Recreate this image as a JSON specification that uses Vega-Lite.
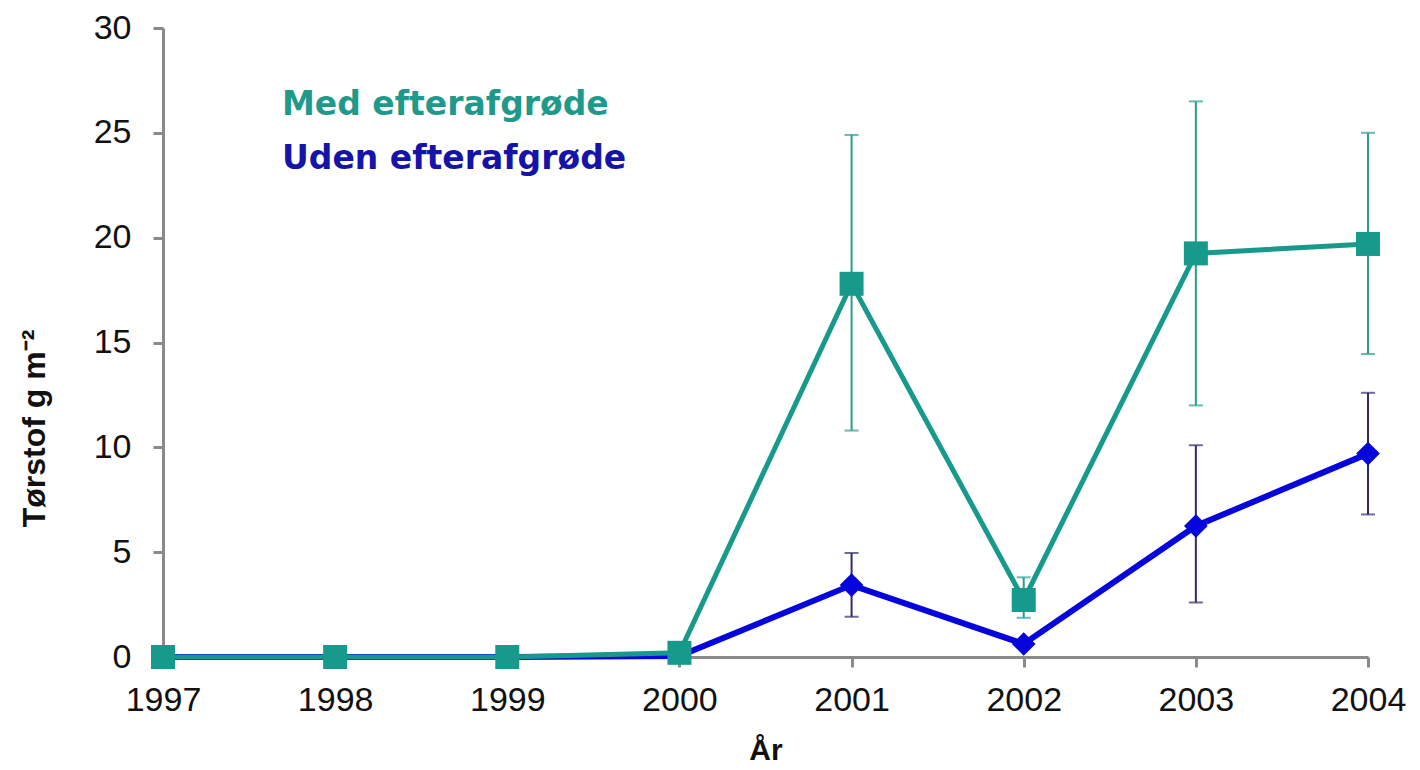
{
  "$schema": "https://vega.github.io/schema/vega-lite/v6.json",
  "width": 1205,
  "height": 629,
  "autosize": "none",
  "padding": {"left": 163, "top": 28, "right": 52, "bottom": 113},
  "background": "white",
  "config": {
    "view": {"stroke": null},
    "axis": {
      "grid": false,
      "domainColor": "#8a8a8a",
      "domainWidth": 3,
      "tickColor": "#8a8a8a",
      "tickWidth": 3,
      "tickSize": 10,
      "labelFont": "Liberation Sans",
      "labelFontSize": 34,
      "labelColor": "#111111",
      "titleFont": "Liberation Sans",
      "titleFontWeight": "bold",
      "titleFontSize": 30,
      "titleColor": "#111111"
    }
  },
  "data": {
    "values": [
      {"year": 1997, "serie": "Uden efterafgrøde", "value": 0, "lo": null, "hi": null},
      {"year": 1998, "serie": "Uden efterafgrøde", "value": 0, "lo": null, "hi": null},
      {"year": 1999, "serie": "Uden efterafgrøde", "value": 0, "lo": null, "hi": null},
      {"year": 2000, "serie": "Uden efterafgrøde", "value": 0.05, "lo": null, "hi": null},
      {"year": 2001, "serie": "Uden efterafgrøde", "value": 3.43, "lo": 1.92, "hi": 4.96},
      {"year": 2002, "serie": "Uden efterafgrøde", "value": 0.62, "lo": null, "hi": null},
      {"year": 2003, "serie": "Uden efterafgrøde", "value": 6.25, "lo": 2.6, "hi": 10.1},
      {"year": 2004, "serie": "Uden efterafgrøde", "value": 9.7, "lo": 6.8, "hi": 12.6},
      {"year": 1997, "serie": "Med efterafgrøde", "value": 0, "lo": null, "hi": null},
      {"year": 1998, "serie": "Med efterafgrøde", "value": 0, "lo": null, "hi": null},
      {"year": 1999, "serie": "Med efterafgrøde", "value": 0, "lo": null, "hi": null},
      {"year": 2000, "serie": "Med efterafgrøde", "value": 0.2, "lo": null, "hi": null},
      {"year": 2001, "serie": "Med efterafgrøde", "value": 17.8, "lo": 10.8, "hi": 24.9},
      {"year": 2002, "serie": "Med efterafgrøde", "value": 2.72, "lo": 1.87, "hi": 3.8},
      {"year": 2003, "serie": "Med efterafgrøde", "value": 19.25, "lo": 12.0, "hi": 26.5},
      {"year": 2004, "serie": "Med efterafgrøde", "value": 19.7, "lo": 14.45, "hi": 25.0}
    ]
  },
  "encoding": {
    "x": {
      "field": "year",
      "type": "quantitative",
      "scale": {"domain": [1997, 2004], "nice": false, "zero": false},
      "axis": {"values": [1997, 1998, 1999, 2000, 2001, 2002, 2003, 2004], "format": "d", "labelPadding": 16, "title": "År", "titlePadding": 18, "labelFlush": false}
    }
  },
  "layer": [
    {
      "transform": [{"filter": "datum.serie === 'Uden efterafgrøde' && datum.lo != null"}],
      "mark": {"type": "rule", "color": "#2d2d6b", "strokeWidth": 2},
      "encoding": {
        "y": {"field": "lo", "type": "quantitative"},
        "y2": {"field": "hi"}
      }
    },
    {
      "transform": [{"filter": "datum.serie === 'Uden efterafgrøde' && datum.lo != null"}],
      "mark": {"type": "tick", "orient": "horizontal", "color": "#2d2d6b", "size": 14, "thickness": 2},
      "encoding": {"y": {"field": "lo", "type": "quantitative"}}
    },
    {
      "transform": [{"filter": "datum.serie === 'Uden efterafgrøde' && datum.lo != null"}],
      "mark": {"type": "tick", "orient": "horizontal", "color": "#2d2d6b", "size": 14, "thickness": 2},
      "encoding": {"y": {"field": "hi", "type": "quantitative"}}
    },
    {
      "transform": [{"filter": "datum.serie === 'Uden efterafgrøde'"}],
      "mark": {"type": "line", "strokeWidth": 6},
      "encoding": {
        "y": {
          "field": "value",
          "type": "quantitative",
          "scale": {"domain": [0, 30], "nice": false},
          "axis": {"values": [0, 5, 10, 15, 20, 25, 30], "labelPadding": 22, "title": "Tørstof g m⁻²", "titlePadding": 42, "titleFontSize": 32, "titleY": 400}
        },
        "color": {
          "field": "serie",
          "type": "nominal",
          "scale": {"domain": ["Med efterafgrøde", "Uden efterafgrøde"], "range": ["#17998b", "#0505dc"]},
          "legend": {
            "orient": "none",
            "legendX": 86,
            "legendY": 60,
            "title": null,
            "symbolSize": 0,
            "symbolOpacity": 0,
            "symbolStrokeWidth": 0,
            "labelOffset": 0,
            "labelFont": "DejaVu Sans",
            "labelFontWeight": "bold",
            "labelFontSize": 33,
            "rowPadding": 20,
            "labelLimit": 700,
            "encode": {
              "labels": {
                "update": {
                  "fill": {"signal": "datum.value === 'Med efterafgrøde' ? '#1f9a8a' : '#1414a8'"}
                }
              }
            }
          }
        }
      }
    },
    {
      "transform": [{"filter": "datum.serie === 'Uden efterafgrøde' && datum.year >= 2001"}],
      "mark": {"type": "point", "shape": "diamond", "filled": true, "size": 560, "color": "#0505dc", "opacity": 1},
      "encoding": {"y": {"field": "value", "type": "quantitative"}}
    },
    {
      "transform": [{"filter": "datum.serie === 'Med efterafgrøde' && datum.lo != null"}],
      "mark": {"type": "rule", "color": "#2a9d90", "strokeWidth": 2},
      "encoding": {
        "y": {"field": "lo", "type": "quantitative"},
        "y2": {"field": "hi"}
      }
    },
    {
      "transform": [{"filter": "datum.serie === 'Med efterafgrøde' && datum.lo != null"}],
      "mark": {"type": "tick", "orient": "horizontal", "color": "#2a9d90", "size": 14, "thickness": 2},
      "encoding": {"y": {"field": "lo", "type": "quantitative"}}
    },
    {
      "transform": [{"filter": "datum.serie === 'Med efterafgrøde' && datum.lo != null"}],
      "mark": {"type": "tick", "orient": "horizontal", "color": "#2a9d90", "size": 14, "thickness": 2},
      "encoding": {"y": {"field": "hi", "type": "quantitative"}}
    },
    {
      "transform": [{"filter": "datum.serie === 'Med efterafgrøde'"}],
      "mark": {"type": "line", "strokeWidth": 5},
      "encoding": {
        "y": {"field": "value", "type": "quantitative"},
        "color": {"field": "serie", "type": "nominal"}
      }
    },
    {
      "transform": [{"filter": "datum.serie === 'Med efterafgrøde'"}],
      "mark": {"type": "point", "shape": "square", "filled": true, "size": 576, "color": "#17998b", "opacity": 1},
      "encoding": {"y": {"field": "value", "type": "quantitative"}}
    }
  ]
}
